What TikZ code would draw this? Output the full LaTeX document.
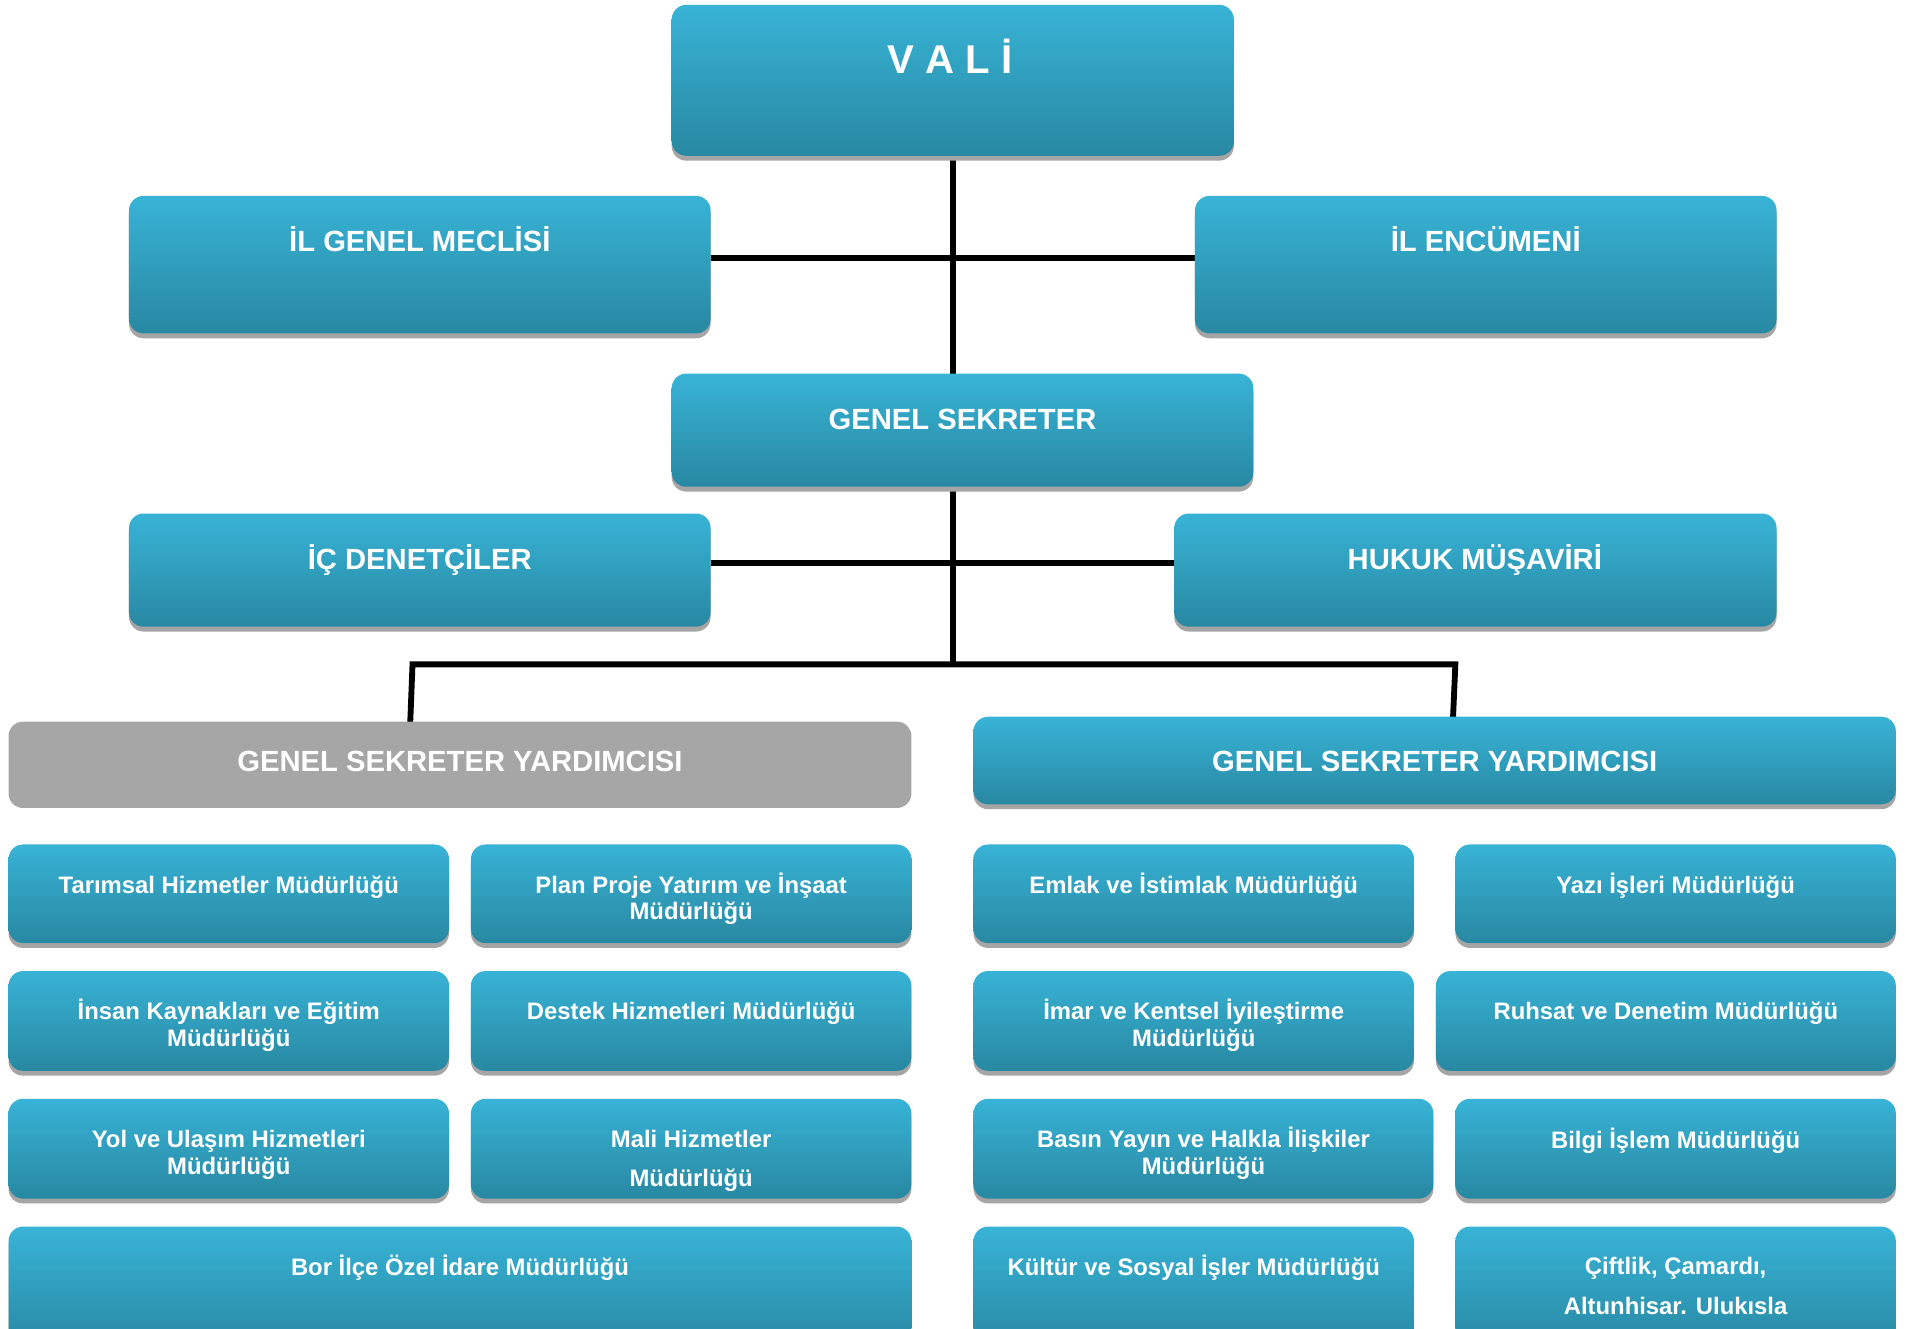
\documentclass[tikz,border=0pt]{standalone}
\usepackage{fontspec}
\setmainfont{Liberation Sans}
\usetikzlibrary{shadows,fit,backgrounds}
\definecolor{bTop}{RGB}{56,179,214}
\definecolor{bBot}{RGB}{40,136,162}
\definecolor{gBox}{RGB}{166,166,166}
\definecolor{shd}{RGB}{165,165,165}
\begin{document}
\begin{tikzpicture}[x=0.5pt,y=-0.5pt,
  bx/.style={rounded corners=6pt, inner sep=0pt, outer sep=0pt, top color=bTop, bottom color=bBot, draw=none,
     drop shadow={shadow xshift=0pt, shadow yshift=-2pt, fill=shd, opacity=1}},
  gbx/.style={rounded corners=6pt, inner sep=0pt, outer sep=0pt, fill=gBox, draw=none},
  big/.style={text=white, font=\bfseries\fontsize{12}{14}\selectfont, anchor=base, inner sep=0pt},
  sm/.style={text=white, font=\bfseries\fontsize{9.8}{11}\selectfont, anchor=base, inner sep=0pt},
  conn/.style={line width=2.4pt, black}]
\useasboundingbox (0,0) rectangle (1568,1092);
\clip (0,0) rectangle (1568,1092);

% top level boxes
\node[bx, fit={(552,4)(1014,128)}] (vali) {};
\node[bx, fit={(106,161)(584,274)}] (meclis) {};
\node[bx, fit={(982,161)(1460,274)}] (encumeni) {};
\node[bx, fit={(552,307)(1030,400)}] (gs) {};
\node[bx, fit={(106,422)(584,515)}] (icd) {};
\node[bx, fit={(965,422)(1460,515)}] (hukuk) {};
\node[gbx, fit={(7,593)(749,664)}] (gsyL) {};
\node[bx, fit={(800,589)(1558,661)}] (gsyR) {};

% left directorates
\node[bx, fit={(7,694)(369,775)}] (a1) {};
\node[bx, fit={(387,694)(749,775)}] (a2) {};
\node[bx, fit={(7,798)(369,880)}] (b1) {};
\node[bx, fit={(387,798)(749,880)}] (b2) {};
\node[bx, fit={(7,903)(369,985)}] (c1) {};
\node[bx, fit={(387,903)(749,985)}] (c2) {};
\node[bx, fit={(7,1008)(749,1110)}] (d1) {};
% right directorates
\node[bx, fit={(800,694)(1162,775)}] (e1) {};
\node[bx, fit={(1196,694)(1558,775)}] (e2) {};
\node[bx, fit={(800,798)(1162,880)}] (f1) {};
\node[bx, fit={(1180,798)(1558,880)}] (f2) {};
\node[bx, fit={(800,903)(1178,985)}] (g1) {};
\node[bx, fit={(1196,903)(1558,985)}] (g2) {};
\node[bx, fit={(800,1008)(1162,1110)}] (h1) {};
\node[bx, fit={(1196,1008)(1558,1110)}] (h2) {};

% connectors
\coordinate (jA) at (783,212);
\coordinate (jB) at (783,463);
\coordinate (jC) at (783,546);
\coordinate (lt) at (339,546);
\coordinate (rt) at (1196,546);
\coordinate (ltEnd) at (337,597);
\coordinate (rtEnd) at (1194,592);
\begin{scope}[on background layer]
\draw[conn] (vali.south -| jC) -- (jC);
\draw[conn] (meclis.east |- jA) -- (encumeni.west |- jA);
\draw[conn] (icd.east |- jB) -- (hukuk.west |- jB);
\draw[conn] (ltEnd) -- (lt) -- (rt) -- (rtEnd);
\end{scope}

% texts
\node[text=white, font=\bfseries\fontsize{16.5}{18}\selectfont, anchor=base, inner sep=0pt] (valiT) at (781,60) {V A L İ};
\node[big] (meclisT) at (345,207) {İL GENEL MECLİSİ};
\node[big] (encumeniT) at (1221,207) {İL ENCÜMENİ};
\node[big] (gsT) at (791,353) {GENEL SEKRETER};
\node[big] (icdT) at (345,468) {İÇ DENETÇİLER};
\node[big] (hukukT) at (1212,468) {HUKUK MÜŞAVİRİ};
\node[big] (gsyLT) at (378,634) {GENEL SEKRETER YARDIMCISI};
\node[big] (gsyRT) at (1179,634) {GENEL SEKRETER YARDIMCISI};

\node[sm] (a1T) at (188,734) {Tarımsal Hizmetler Müdürlüğü};
\node[sm] (a2T) at (568,734) {Plan Proje Yatırım ve İnşaat};
\node[sm] (a2U) at (568,756) {Müdürlüğü};
\node[sm] (b1T) at (188,838) {İnsan Kaynakları ve Eğitim};
\node[sm] (b1U) at (188,860) {Müdürlüğü};
\node[sm] (b2T) at (568,838) {Destek Hizmetleri Müdürlüğü};
\node[sm] (c1T) at (188,943) {Yol ve Ulaşım Hizmetleri};
\node[sm] (c1U) at (188,965) {Müdürlüğü};
\node[sm] (c2T) at (568,943) {Mali Hizmetler};
\node[sm] (c2U) at (568,975) {Müdürlüğü};
\node[sm] (d1T) at (378,1048) {Bor İlçe Özel İdare Müdürlüğü};

\node[sm] (e1T) at (981,734) {Emlak ve İstimlak Müdürlüğü};
\node[sm] (e2T) at (1377,734) {Yazı İşleri Müdürlüğü};
\node[sm] (f1T) at (981,838) {İmar ve Kentsel İyileştirme};
\node[sm] (f1U) at (981,860) {Müdürlüğü};
\node[sm] (f2T) at (1369,838) {Ruhsat ve Denetim Müdürlüğü};
\node[sm] (g1T) at (989,943) {Basın Yayın ve Halkla İlişkiler};
\node[sm] (g1U) at (989,965) {Müdürlüğü};
\node[sm] (g2T) at (1377,944) {Bilgi İşlem Müdürlüğü};
\node[sm] (h1T) at (981,1048) {Kültür ve Sosyal İşler Müdürlüğü};
\node[sm] (h2T) at (1377,1047) {Çiftlik, Çamardı,};
\node[sm] (h2U) at (1377,1080) {Altunhisar. Ulukısla};
\end{tikzpicture}
\end{document}
